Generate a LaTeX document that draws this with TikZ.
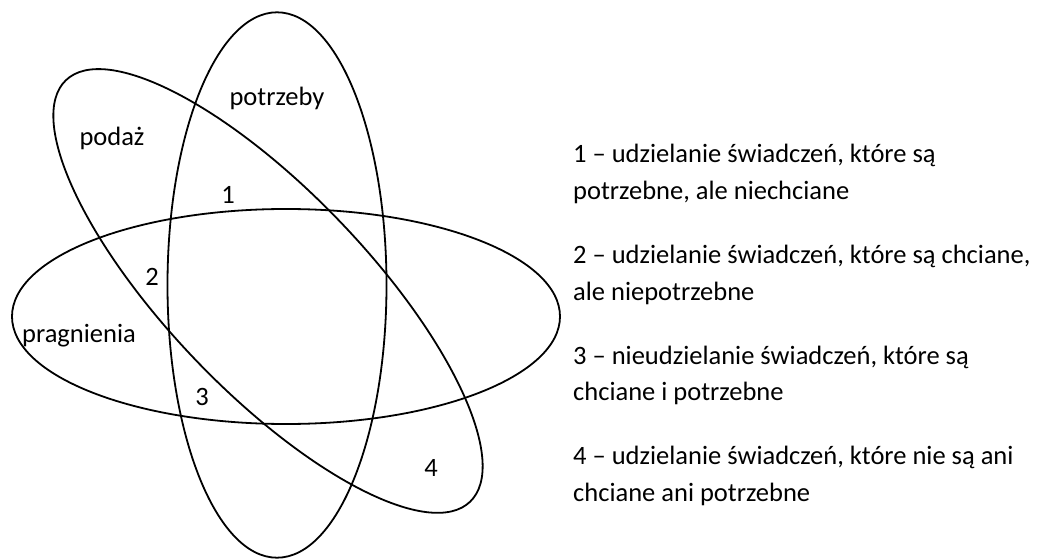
\documentclass[tikz,border=0pt]{standalone}
\usepackage{fontspec}
\setmainfont{Carlito}
\begin{document}
\begin{tikzpicture}[x=1pt,y=-1pt,
  set/.style={draw=black,line width=1.8pt},
  lbl/.style={inner sep=0pt,anchor=base,font=\fontsize{26.5}{36.5}\selectfont},
  legend/.style={inner sep=0pt,anchor=base west,align=left,font=\fontsize{26.5}{36.5}\selectfont}]
\useasboundingbox (0,0) rectangle (1037,559);
% centres
\coordinate (cpot) at (277,285);
\coordinate (cpra) at (286,316.5);
\coordinate (cpod) at (268,291);
% sets
\draw[set] (cpot) ellipse [x radius=109.5, y radius=272.7];
\draw[set] (cpra) ellipse [x radius=274, y radius=107.5];
\draw[set,rotate around={-46.2:(cpod)}] (cpod) ellipse [x radius=292, y radius=100];
% labels
\node[lbl] (potrzeby) at (277,106) {potrzeby};
\node[lbl] (podaz) at (112,146) {podaż};
\node[lbl] (pragnienia) at (79,342) {pragnienia};
\node[lbl] (n1) at (228,204) {1};
\node[lbl] (n2) at (152,285) {2};
\node[lbl] (n3) at (202,405) {3};
\node[lbl] (n4) at (431,476) {4};
% legend (anchor at baseline of the last line)
\node[legend] (l1) at (573,199.5) {1 – udzielanie świadczeń, które są\\potrzebne, ale niechciane};
\node[legend] (l2) at (573,300) {2 – udzielanie świadczeń, które są chciane,\\ale niepotrzebne};
\node[legend] (l3) at (573,400.5) {3 – nieudzielanie świadczeń, które są\\chciane i potrzebne};
\node[legend] (l4) at (573,501) {4 – udzielanie świadczeń, które nie są ani\\chciane ani potrzebne};
\end{tikzpicture}
\end{document}
